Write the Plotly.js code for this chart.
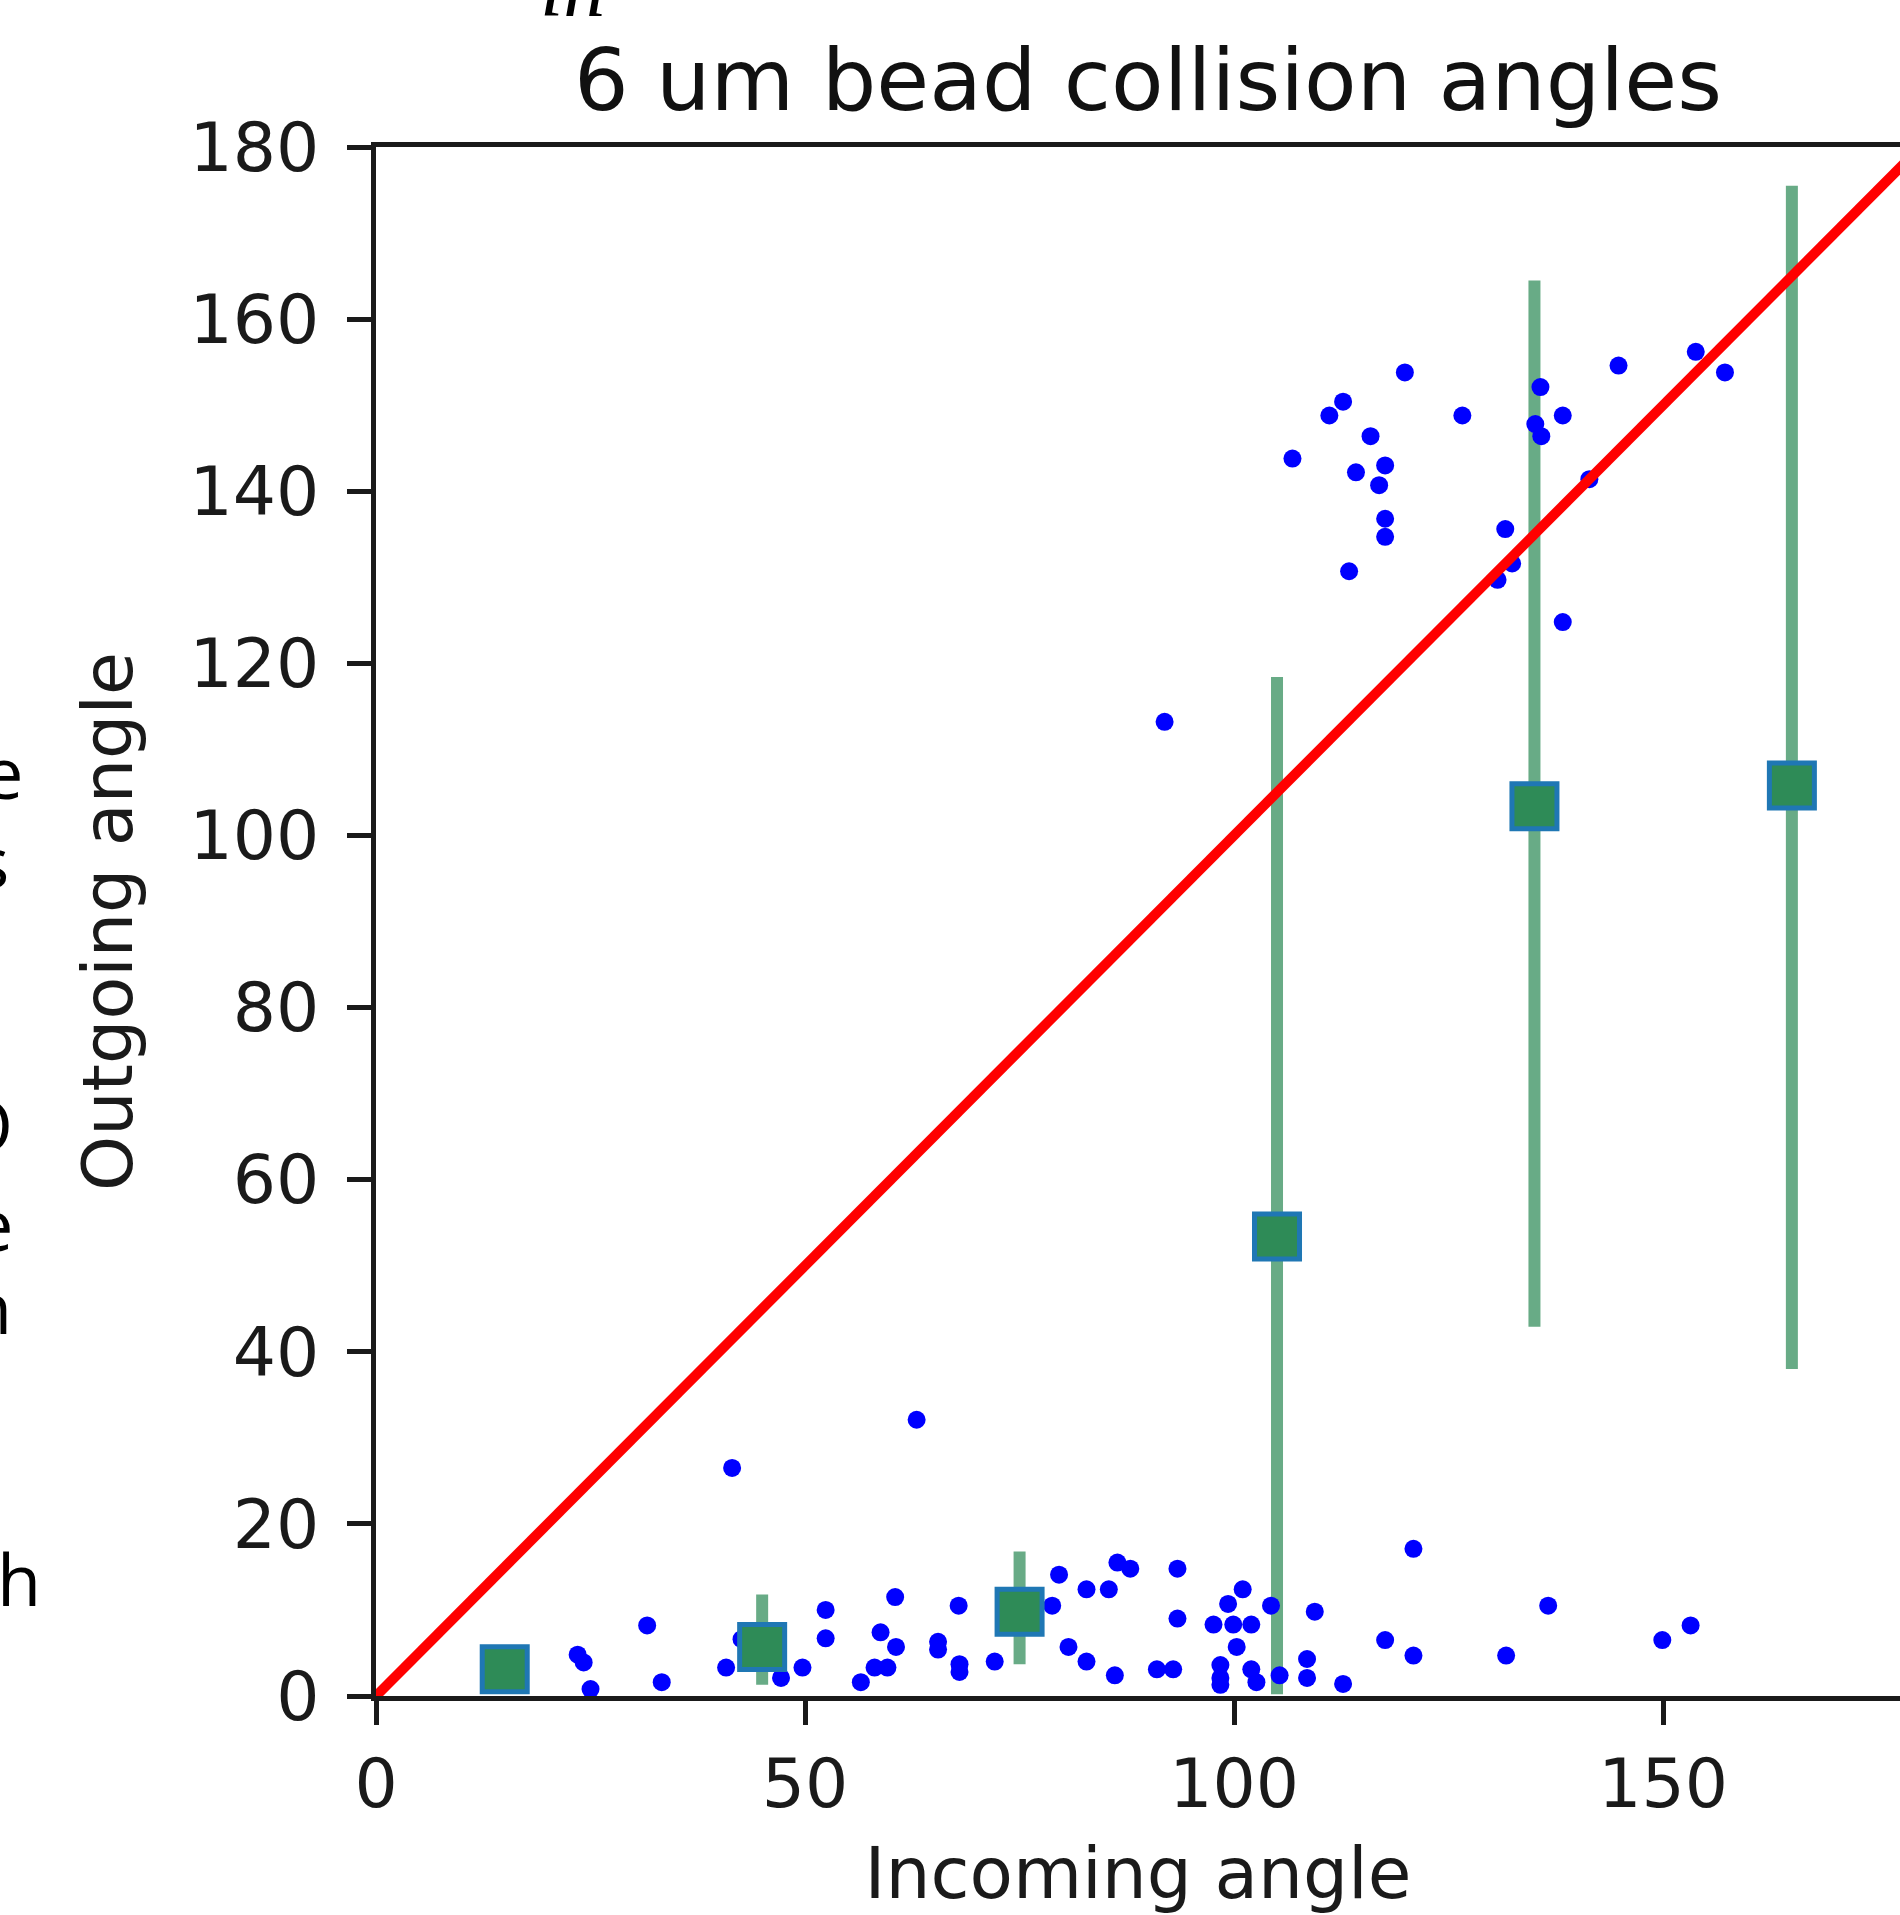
<!DOCTYPE html>
<html>
<head>
<meta charset="utf-8">
<script src="https://cdn.plot.ly/plotly-3.0.1.min.js"></script>
<style>
  html, body { margin: 0; padding: 0; background: #ffffff; overflow: hidden; }
  #chart { width: 1900px; height: 1915px; }
</style>
</head>
<body>
<div id="chart"></div>
<script>
// ---------------- data ----------------
const incomingAngle = [
  // upper cluster
  119.9, 111.1, 112.7, 106.8, 115.9, 114.2, 117.6, 116.9, 117.6, 117.6, 113.4, 126.6,
  135.7, 135.1, 135.8, 138.3, 131.6, 132.4, 130.7, 141.4, 138.3, 144.8, 153.8, 157.2, 91.9,
  // lower cluster
  23.5, 24.2, 25.0, 31.6, 33.3, 41.5, 40.8, 42.6, 47.2, 49.7, 52.4, 52.4, 56.5, 58.1, 59.6,
  58.8, 60.6, 60.5, 63.0, 65.5, 65.5, 67.9, 68.0, 68.0, 72.1, 79.6, 78.8, 80.7, 82.8, 82.8,
  85.4, 86.4, 87.9, 86.1, 91.0, 92.9, 93.4, 93.4, 97.6, 99.9, 102.0, 99.3, 101.0, 100.3,
  98.4, 98.4, 98.4, 102.0, 102.6, 104.3, 105.3, 108.5, 108.5, 109.4, 112.7, 117.6, 120.9,
  120.9, 131.7, 136.6, 149.9, 153.2
];
const outgoingAngle = [
  153.8, 148.8, 150.4, 143.8, 146.4, 142.2, 143.0, 140.7, 136.8, 134.7, 130.7, 148.8,
  152.1, 147.8, 146.4, 148.8, 135.6, 131.6, 129.7, 141.4, 124.8, 154.6, 156.2, 153.8, 113.2,
  4.8, 3.9, 0.8, 8.2, 1.6, 26.5, 3.3, 6.6, 2.1, 3.3, 10.0, 6.7, 1.6, 3.3, 3.3,
  7.4, 5.7, 11.5, 32.1, 6.3, 5.4, 10.5, 3.7, 2.8, 4.0, 14.1, 10.5, 5.7, 4.0, 12.4,
  12.4, 15.5, 14.8, 2.4, 3.1, 3.1, 14.8, 9.0, 8.3, 8.3, 8.3, 10.7, 12.4, 5.7,
  3.6, 2.1, 1.3, 3.1, 1.6, 10.5, 2.4, 4.3, 2.1, 9.8, 1.4, 6.5, 17.1,
  4.7, 4.7, 10.5, 6.5, 8.2
];
const binCenters = [15, 45, 75, 105, 135, 165];
const binMeans   = [3.1, 5.7, 9.8, 53.4, 103.4, 105.8];
const binErrUp   = [1.5, 6.1, 7.0, 65.0, 61.1, 69.7];
const binErrDown = [1.5, 4.4, 6.1, 53.2, 60.5, 67.8];
const identityLine = [0, 180];

const xTickVals = [0, 50, 100, 150];
const yTickVals = [0, 20, 40, 60, 80, 100, 120, 140, 160, 180];

const titleText = "6 um bead collision angles";
const xTitleText = "Incoming angle";
const yTitleText = "Outgoing angle";
// clipped text fragments from the surrounding slide
const sideLetters = ["e", "s", "O", "e", "n", "h"];
const topFragment = "in";

// ---------------- layout geometry ----------------
const W = 1900, H = 1915;
const mL = 376, mR = 0, mT = 147, mB = H - 1696;
const plotW = W - mL - mR, plotH = H - mT - mB;
const px2x = p => (p - mL) / plotW;
const px2y = p => 1 - (p - mT) / plotH;

const font = "DejaVu Sans, Verdana, sans-serif";

const traces = [
  { // error bars (drawn underneath everything)
    x: binCenters, y: binMeans, type: "scatter", mode: "markers",
    marker: { size: 1, opacity: 0 },
    error_y: { type: "data", symmetric: false, array: binErrUp, arrayminus: binErrDown,
               thickness: 12, width: 0, color: "rgba(46,139,87,0.72)" },
    hoverinfo: "skip", showlegend: false, cliponaxis: false
  },
  { // individual collisions
    x: incomingAngle, y: outgoingAngle, type: "scatter", mode: "markers",
    marker: { color: "#0000ff", size: 18, line: { width: 0 } },
    showlegend: false, cliponaxis: false
  },
  { // y = x reference line
    x: identityLine, y: identityLine, type: "scatter", mode: "lines",
    line: { color: "#ff0000", width: 10 }, showlegend: false
  },
  { // bin means
    x: binCenters, y: binMeans, type: "scatter", mode: "markers",
    marker: { symbol: "square", color: "#2e8b57", size: 45, line: { color: "#1f77b4", width: 5 } },
    showlegend: false, cliponaxis: false
  }
];

const sideY = [771, 860, 1124, 1223, 1306, 1578];
const sideRight = [24, 10, 14, 14, 13, 42];
const annotations = sideLetters.map((t, i) => ({
  text: t, xref: "paper", yref: "paper",
  x: px2x(sideRight[i]), y: px2y(sideY[i]),
  xanchor: "right", yanchor: "middle", showarrow: false, borderpad: 0,
  font: { family: "Open Sans, Noto Sans, sans-serif", size: 72, color: "#000000" }
}));
annotations.push({
  text: "<i>" + topFragment + "</i>", xref: "paper", yref: "paper",
  x: px2x(572), y: px2y(-12), xanchor: "center", yanchor: "middle", showarrow: false,
  font: { family: "Liberation Serif, DejaVu Serif, serif", size: 84, color: "#000000" }
});

const layout = {
  width: W, height: H,
  margin: { l: mL, r: mR, t: mT, b: mB, pad: 0 },
  paper_bgcolor: "#ffffff", plot_bgcolor: "#ffffff",
  font: { family: font, color: "#1a1a1a" },
  title: {
    text: titleText, xref: "paper", x: px2x(1148), xanchor: "center",
    yref: "container", y: 1 - 80 / H, yanchor: "middle",
    font: { family: font, size: 86, color: "#111111" }
  },
  xaxis: {
    range: [0, 177.6], tickmode: "array", tickvals: xTickVals,
    showgrid: false, zeroline: false,
    showline: true, linecolor: "#1a1a1a", linewidth: 5, mirror: true,
    ticks: "outside", ticklen: 24, tickwidth: 5, tickcolor: "#1a1a1a",
    tickfont: { family: font, size: 68, color: "#1a1a1a" },
    title: { text: xTitleText, standoff: 40, font: { family: font, size: 71, color: "#1a1a1a" } }
  },
  yaxis: {
    range: [0, 180], tickmode: "array", tickvals: yTickVals,
    showgrid: false, zeroline: false,
    showline: true, linecolor: "#1a1a1a", linewidth: 5, mirror: false,
    ticks: "outside", ticklen: 24, tickwidth: 5, tickcolor: "#1a1a1a",
    ticklabelstandoff: 14,
    tickfont: { family: font, size: 68, color: "#1a1a1a" },
    title: { text: yTitleText, standoff: 36, font: { family: font, size: 70, color: "#1a1a1a" } }
  },
  annotations: annotations,
  showlegend: false
};

Plotly.newPlot("chart", traces, layout, { displayModeBar: false, staticPlot: true });
</script>
</body>
</html>
